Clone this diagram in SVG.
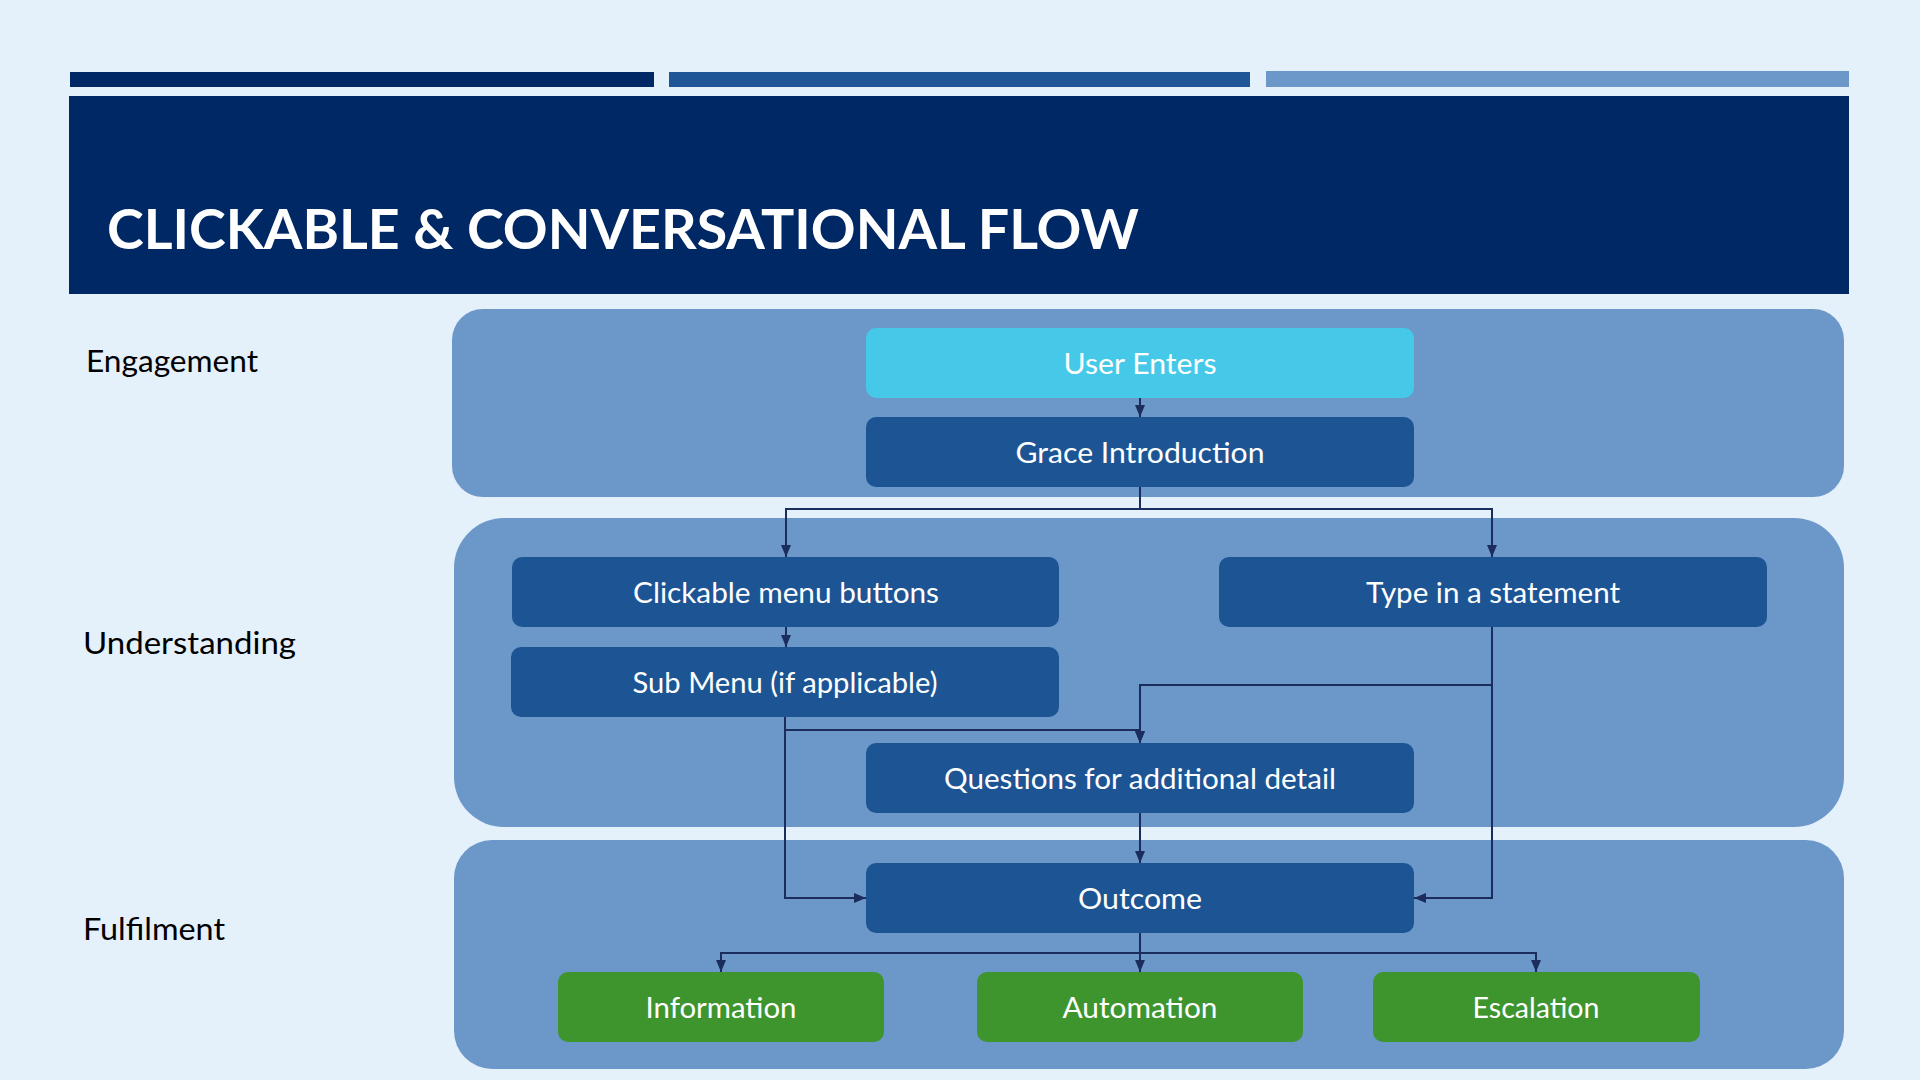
<svg xmlns="http://www.w3.org/2000/svg" width="1920" height="1080" viewBox="0 0 1920 1080">
  <style>
    .panel { fill: #6C98C9; }
    .node { fill: #1D5594; }
    .cyan { fill: #46C9E8; }
    .green { fill: #3E952E; }
    .ntxt { font-family: Lato, "Open Sans", "Liberation Sans", sans-serif; font-size: 29px; fill: #FFFFFF; text-anchor: middle; }
    .lbl { font-family: Lato, "Open Sans", "Liberation Sans", sans-serif; font-size: 31px; fill: #000000; }
    .conn { fill: none; stroke: #1B2D5C; stroke-width: 2; marker-end: url(#arr); }
  </style>
  <defs>
    <marker id="arr" viewBox="0 0 12 10" refX="12" refY="5" markerWidth="12" markerHeight="10" markerUnits="userSpaceOnUse" orient="auto">
      <path d="M0,0 L12,5 L0,10 Z" fill="#1B2D5C"/>
    </marker>
  </defs>
  <rect x="0" y="0" width="1920" height="1080" fill="#E4F0FA"/>

  <g id="header">
    <rect x="70" y="72" width="584" height="15" fill="#002864"/>
    <rect x="669" y="72" width="581" height="15" fill="#1E5696"/>
    <rect x="1266" y="71" width="583" height="16" fill="#6C98C9"/>
    <rect x="69" y="96" width="1780" height="198" fill="#002864"/>
    <text x="107" y="249" font-family="Lato, 'Open Sans', 'Liberation Sans', sans-serif" font-size="55" font-weight="bold" fill="#FFFFFF" textLength="1032" lengthAdjust="spacingAndGlyphs">CLICKABLE &amp; CONVERSATIONAL FLOW</text>
  </g>

  <g id="panels">
    <rect id="panel-engagement" class="panel" x="452" y="309" width="1392" height="188" rx="31" ry="31"/>
    <rect id="panel-understanding" class="panel" x="454" y="518" width="1390" height="309" rx="50" ry="50"/>
    <rect id="panel-fulfilment" class="panel" x="454" y="840" width="1390" height="229" rx="38" ry="38"/>
  </g>

  <g id="stage-labels">
    <text class="lbl" x="86" y="372" textLength="172" lengthAdjust="spacingAndGlyphs">Engagement</text>
    <text class="lbl" x="83" y="654" textLength="213" lengthAdjust="spacingAndGlyphs">Understanding</text>
    <text class="lbl" x="83" y="940" textLength="142" lengthAdjust="spacingAndGlyphs">Fulfilment</text>
  </g>

  <g id="connectors">
    <path class="conn" d="M1140 398 V417"/>
    <path class="conn" d="M1140 487 V509 H786 V557"/>
    <path class="conn" d="M1140 487 V509 H1492 V557"/>
    <path class="conn" d="M786 627 V647"/>
    <path class="conn" d="M785 717 V730 H1140 V743"/>
    <path class="conn" d="M1492 627 V685 H1140 V743"/>
    <path class="conn" d="M785 717 V898 H866"/>
    <path class="conn" d="M1492 627 V898 H1414"/>
    <path class="conn" d="M1140 813 V863"/>
    <path class="conn" d="M1140 933 V953 H721 V972"/>
    <path class="conn" d="M1140 933 V972"/>
    <path class="conn" d="M1140 933 V953 H1536 V972"/>
  </g>

  <g id="user-enters">
    <rect class="cyan" x="866" y="328" width="548" height="70" rx="10" ry="10"/>
    <text class="ntxt" x="1140" y="374" textLength="153" lengthAdjust="spacingAndGlyphs">User Enters</text>
  </g>
  <g id="grace-introduction">
    <rect class="node" x="866" y="417" width="548" height="70" rx="10" ry="10"/>
    <text class="ntxt" x="1140" y="463" textLength="249" lengthAdjust="spacingAndGlyphs">Grace Introduction</text>
  </g>
  <g id="clickable-menu">
    <rect class="node" x="512" y="557" width="547" height="70" rx="10" ry="10"/>
    <text class="ntxt" x="786" y="603" textLength="306" lengthAdjust="spacingAndGlyphs">Clickable menu buttons</text>
  </g>
  <g id="type-statement">
    <rect class="node" x="1219" y="557" width="548" height="70" rx="10" ry="10"/>
    <text class="ntxt" x="1493" y="603" textLength="254" lengthAdjust="spacingAndGlyphs">Type in a statement</text>
  </g>
  <g id="sub-menu">
    <rect class="node" x="511" y="647" width="548" height="70" rx="10" ry="10"/>
    <text class="ntxt" x="785" y="693" textLength="305" lengthAdjust="spacingAndGlyphs">Sub Menu (if applicable)</text>
  </g>
  <g id="questions">
    <rect class="node" x="866" y="743" width="548" height="70" rx="10" ry="10"/>
    <text class="ntxt" x="1140" y="789" textLength="392" lengthAdjust="spacingAndGlyphs">Questions for additional detail</text>
  </g>
  <g id="outcome">
    <rect class="node" x="866" y="863" width="548" height="70" rx="10" ry="10"/>
    <text class="ntxt" x="1140" y="909" textLength="124" lengthAdjust="spacingAndGlyphs">Outcome</text>
  </g>
  <g id="information">
    <rect class="green" x="558" y="972" width="326" height="70" rx="10" ry="10"/>
    <text class="ntxt" x="721" y="1018" textLength="151" lengthAdjust="spacingAndGlyphs">Information</text>
  </g>
  <g id="automation">
    <rect class="green" x="977" y="972" width="326" height="70" rx="10" ry="10"/>
    <text class="ntxt" x="1140" y="1018" textLength="155" lengthAdjust="spacingAndGlyphs">Automation</text>
  </g>
  <g id="escalation">
    <rect class="green" x="1373" y="972" width="327" height="70" rx="10" ry="10"/>
    <text class="ntxt" x="1536" y="1018" textLength="127" lengthAdjust="spacingAndGlyphs">Escalation</text>
  </g>
</svg>
